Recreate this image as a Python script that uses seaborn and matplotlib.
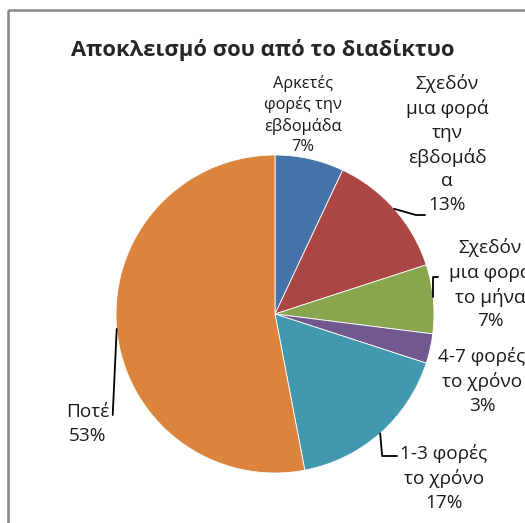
import numpy as np
import seaborn as sns
import matplotlib.pyplot as plt
from matplotlib.patches import Rectangle

categories = ["Αρκετές\nφορές την\nεβδομάδα", "Σχεδόν\nμια φορά\nτην\nεβδομάδ\nα",
              "Σχεδόν\nμια φορά\nτο μήνα", "4-7 φορές\nτο χρόνο",
              "1-3 φορές\nτο χρόνο", "Ποτέ"]
values = [7, 13, 7, 3, 17, 53]
colors = ["#4572A7", "#AA4643", "#89A54E", "#71588F", "#4198AF", "#DB843D"]
title = "Αποκλεισμό σου από το διαδίκτυο"

sns.set_theme(style="white")
plt.rcParams['font.family'] = ['Open Sans', 'DejaVu Sans']

W, H = 525, 523
fig = plt.figure(figsize=(W / 100, H / 100), dpi=100)
ax = fig.add_axes([0, 0, 1, 1])

# outer chart frame (cropped on right/bottom)
ax.add_patch(Rectangle((8, 10), 600, 600, fill=False, edgecolor="#868686", lw=1.8))

cx, cy, r = 275, 314, 159
# y axis is inverted, so counterclock=True draws clockwise on screen
wedges, _ = ax.pie(values, colors=colors, startangle=-90, counterclock=True,
                   center=(cx, cy), radius=r, frame=True,
                   wedgeprops=dict(edgecolor="white", linewidth=0.6))
ax.set_xlim(0, W)
ax.set_ylim(H, 0)
ax.set_axis_off()

ax.text(263, 50, title, ha="center", va="center", fontsize=15.8, fontweight="bold")

# mid-angle edge points of each wedge (screen coords)
cum = np.cumsum([0] + values[:-1])
mids = [(c + v / 2) / sum(values) * 2 * np.pi for c, v in zip(cum, values)]
edge = [(cx + r * np.sin(a), cy - r * np.cos(a)) for a in mids]

labels = [f"{c}\n{v}%" for c, v in zip(categories, values)]
lab_pos = [(303, 115), (447, 144), (490, 284), (482, 381), (444, 478), (88, 424)]
sizes = [11.8, 13.7, 13.7, 13.7, 13.7, 13.7]
spacing = [1.36, 1.4, 1.4, 1.4, 1.4, 1.4]
for lab, (x, y), fs, ls in zip(labels, lab_pos, sizes, spacing):
    ax.text(x, y, lab, ha="center", va="center", fontsize=fs, linespacing=ls,
            color="#1a1a1a")

lk = dict(color="black", lw=1.3)
# 13%
ex, ey = edge[1]
ax.plot([ex, 416, 425], [ey, 215, 215], **lk)
# green 7%
ex, ey = edge[2]
ax.plot([ex, ex, ex + 5], [ey - 2, 277, 277], **lk)
# 1-3
ex, ey = edge[4]
ax.plot([ex, ex + 2, 397], [ey, 456, 456], **lk)
# Ποτέ
ex, ey = edge[5]
ax.plot([ex, ex - 4], [ey, 415], **lk)

fig.savefig("out.png", dpi=100, facecolor="white")
